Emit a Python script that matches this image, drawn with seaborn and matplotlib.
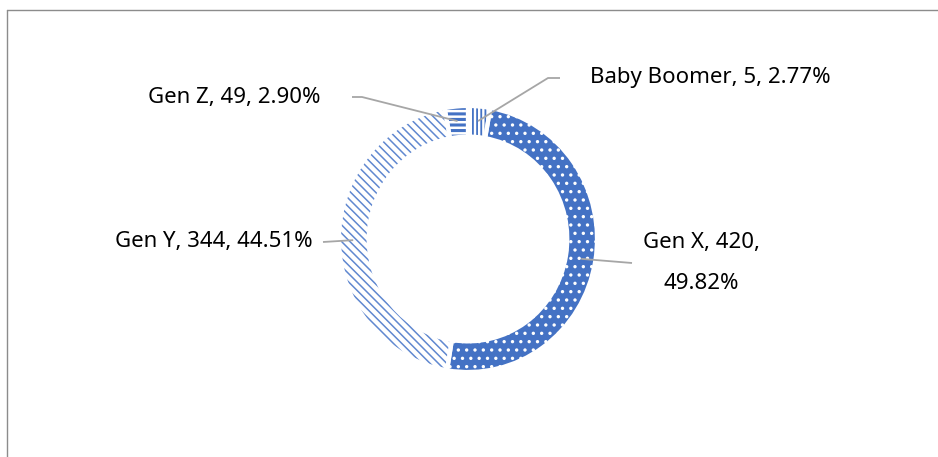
import matplotlib
matplotlib.use("Agg")
import matplotlib.pyplot as plt
from matplotlib.lines import Line2D
import numpy as np
import seaborn as sns

# Respondents by generation
generations = ["Baby Boomer", "Gen X", "Gen Y", "Gen Z"]
counts = [5, 420, 344, 49]
shares = [2.77, 49.82, 44.51, 2.90]

sns.set_theme(style="white")
plt.rcParams["font.family"] = ["Noto Sans", "DejaVu Sans"]
plt.rcParams["hatch.linewidth"] = 1.6

BLUE = "#4472C4"
GREY = "#A6A6A6"
W, H = 938, 457
cx, cy, rx, ry = 468, 239, 129, 133  # ring centre and radii in pixels

fig = plt.figure(figsize=(W / 100, H / 100), dpi=100)
fig.patch.set_facecolor("white")
ax = fig.add_axes([(cx - rx) / W, (H - cy - ry) / H, 2 * rx / W, 2 * ry / H])

ring = 0.23
faces = ["white", BLUE, "white", "white"]
hatch_colors = [BLUE, "white", "#6088D0", BLUE]
hatches = ["||||", "..", "\\\\\\\\", "---"]
hatch_widths = [1.3, 1.2, 1.1, 2.2]

wedges, _ = ax.pie(shares, startangle=90, counterclock=False, radius=1,
                   wedgeprops=dict(width=ring, linewidth=0))
for w, fc, hc, h, hw in zip(wedges, faces, hatch_colors, hatches, hatch_widths):
    w.set_facecolor(fc)
    w.set_edgecolor(hc)
    w.set_hatch(h)
    w.set_linewidth(0)
    if hasattr(w, "set_hatch_linewidth"):
        w.set_hatch_linewidth(hw)

# white separators between the slices
ax.pie(shares, startangle=90, counterclock=False, radius=1,
       colors=["none"] * len(shares),
       wedgeprops=dict(width=ring, edgecolor="white", linewidth=3))

ax.set_aspect("auto")
ax.set_xlim(-1, 1)
ax.set_ylim(-1, 1)
ax.set_axis_off()


def px(x, y):
    return (x - cx) / rx, (cy - y) / ry


# anchor point in the middle of each slice
bounds = np.concatenate([[0], np.cumsum(shares)]) / 100.0
mids = (bounds[:-1] + bounds[1:]) / 2 * 2 * np.pi
r_anchor = 0.89
anchors = [(r_anchor * np.sin(a), r_anchor * np.cos(a)) for a in mids]

labels = [f"{g}, {c}, {s:.2f}%" for g, c, s in zip(generations, counts, shares)]
labels[1] = f"{generations[1]}, {counts[1]},\n{shares[1]:.2f}%"

# leader-line bends and label placement (pixels)
leaders = [
    [(548, 78), (560, 78)],
    [(632, 263)],
    [(323, 242)],
    [(362, 97), (352, 97)],
]
text_pos = [(590, 78, "left"), (701, 263, "center"), (313, 242, "right"), (320, 98, "right")]

for anchor, bends, (tx, ty, ha), lab in zip(anchors, leaders, text_pos, labels):
    pts = [anchor] + [px(*b) for b in bends]
    xs, ys = zip(*pts)
    ax.plot(xs, ys, color=GREY, lw=1.3, clip_on=False, solid_capstyle="butt")
    x, y = px(tx, ty)
    ax.text(x, y, lab, ha=ha, va="center", fontsize=16, color="black",
            linespacing=2.3, clip_on=False)

# chart-area frame
fig.add_artist(Line2D([7 / W, 1], [1 - 10 / H, 1 - 10 / H], color="#8C8C8C", lw=1,
                      transform=fig.transFigure))
fig.add_artist(Line2D([7 / W, 7 / W], [0, 1 - 10 / H], color="#8C8C8C", lw=1,
                      transform=fig.transFigure))

fig.savefig("out.png", dpi=100, facecolor="white")
